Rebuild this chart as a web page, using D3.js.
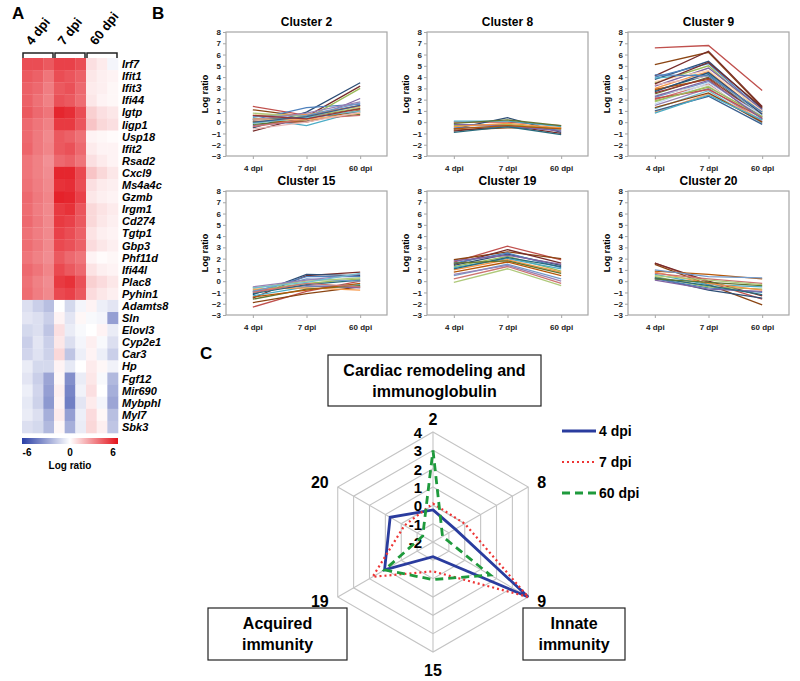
<!DOCTYPE html>
<html><head><meta charset="utf-8">
<script src="https://cdn.jsdelivr.net/npm/d3@7"></script>
<style>
body{margin:0;background:#fff;}
svg{font-family:"Liberation Sans",Arial,sans-serif;}
</style></head>
<body>
<svg id="fig" width="800" height="681"></svg>
<script>
// ---------------- DATA ----------------
const heatGroups = ["4 dpi","7 dpi","60 dpi"];
const genes = ["Irf7","Ifit1","Ifit3","Ifi44","Igtp","Iigp1","Usp18","Ifit2","Rsad2","Cxcl9","Ms4a4c","Gzmb","Irgm1","Cd274","Tgtp1","Gbp3","Phf11d","Ifi44l","Plac8","Pyhin1","Adamts8","Sln","Elovl3","Cyp2e1","Car3","Hp","Fgf12","Mir690","Mybphl","Myl7","Sbk3"];
const heatValues = [
 [4.5,4.5,4.2, 4.8,4.8,4.5, 0.8,0.5,-0.3],
 [4.2,4.0,3.5, 4.5,4.3,4.0, 0.6,0.4,0.3],
 [4.0,3.8,3.3, 4.2,4.4,3.8, 0.5,0.4,0.2],
 [4.0,3.6,3.2, 4.4,4.2,3.7, 0.6,0.3,0.2],
 [4.2,3.8,3.5, 5.5,5.3,4.5, 1.2,0.8,0.6],
 [3.8,3.5,3.2, 5.0,5.0,4.3, 1.5,1.0,0.8],
 [3.8,3.4,3.0, 4.2,4.0,3.6, 0.3,0.2,0.1],
 [3.9,3.4,3.1, 4.2,4.4,3.8, 0.5,0.3,0.3],
 [3.5,3.2,2.8, 3.8,4.0,3.5, 0.8,0.5,0.3],
 [3.5,3.2,2.9, 5.5,5.5,4.6, 1.5,1.0,0.6],
 [3.6,3.3,3.0, 5.2,5.3,4.5, 0.8,0.5,0.4],
 [3.8,3.4,3.1, 5.6,5.5,4.8, 0.6,0.4,0.3],
 [3.7,3.3,3.0, 5.0,5.2,4.3, 1.0,0.7,0.5],
 [3.8,3.4,3.0, 5.0,4.8,4.2, 1.0,0.6,0.4],
 [3.6,3.3,3.0, 4.8,4.5,4.0, 0.7,0.4,0.3],
 [3.7,3.4,3.0, 4.6,4.4,4.0, 0.9,0.6,0.4],
 [3.5,3.2,2.9, 4.2,3.8,3.5, 0.3,0.1,0.2],
 [3.8,3.5,3.1, 4.6,4.2,3.8, 0.7,0.4,0.3],
 [3.6,3.2,2.9, 5.0,5.2,4.4, 1.2,0.9,0.6],
 [3.7,3.3,3.0, 4.6,4.8,4.2, 0.9,0.6,0.4],
 [-1.0,-1.5,-2.0, 0.0,-1.2,-0.3, 0.3,-0.5,-0.8],
 [-0.8,-1.0,-1.5, 0.3,-0.8,0.2, -0.2,-0.3,-3.0],
 [-1.2,-1.0,-1.8, 0.8,-0.6,-0.2, 0.0,0.3,-0.6],
 [-1.5,-0.8,-1.5, 0.6,-1.0,-0.3, 0.4,-0.2,-1.0],
 [-1.3,-0.9,-1.4, 1.0,-1.8,-0.5, 0.3,-0.5,-1.5],
 [-0.6,-1.2,-1.2, 0.3,-0.7,0.0, 0.5,0.2,-0.4],
 [-0.8,-1.5,-2.8, 0.2,-3.5,-0.6, 0.6,-0.2,-2.2],
 [-0.5,-1.3,-3.0, 0.4,-3.8,-0.4, 0.8,0.0,-2.5],
 [-0.7,-1.4,-3.2, 0.3,-4.0,-0.8, 0.5,-0.3,-2.8],
 [-0.6,-1.0,-2.5, 0.5,-3.0,-0.5, 0.9,0.2,-2.0],
 [-1.0,-1.2,-2.2, 0.2,-2.5,-0.6, 1.0,0.4,-1.8]
];
const colorbarTicks = [-6,0,6];

const timepoints = ["4 dpi","7 dpi","60 dpi"];
const yTicks = [8,7,6,5,4,3,2,1,0,-1,-2,-3];
const clusterNames = ["Cluster 2","Cluster 8","Cluster 9","Cluster 15","Cluster 19","Cluster 20"];
const cluster2 = [[1.4,0.6,1.5],[1.1,0.5,1.2],[-0.8,0.5,3.2],[-0.5,0.9,3.5],[0.2,1.3,1.6],[0.0,0.3,3.0],[0.4,-0.3,1.0],[-0.3,0.1,2.1],[0.6,0.7,1.4],[0.3,0.4,0.9],[-0.2,0.2,0.7],[0.1,0.0,1.1],[0.5,0.6,1.7],[-0.4,0.3,0.6],[0.8,0.5,1.3],[0.2,0.8,1.8],[-0.1,0.4,1.0],[0.3,0.2,0.8],[0.0,0.5,1.5],[0.6,0.3,1.2],[-0.6,0.0,0.9]];
const cluster8 = [[0.0,0.0,-0.3],[-0.7,-0.5,-0.5],[-0.8,-0.3,-1.0],[-0.6,0.4,-0.9],[-0.5,-0.4,-0.7],[-0.3,-0.2,-0.6],[0.1,0.1,-0.4],[-0.2,-0.3,-0.8],[-0.4,-0.1,-0.5],[-0.9,-0.4,-1.1],[-0.1,0.2,-0.3],[-0.6,-0.3,-0.6]];
const cluster9 = [[6.6,6.8,2.8],[5.1,6.2,1.3],[4.1,6.3,1.4],[3.8,5.4,1.2],[4.0,5.2,1.0],[3.5,5.0,0.8],[3.9,4.3,0.5],[3.2,4.8,1.1],[3.0,4.5,0.7],[2.8,4.2,0.3],[2.5,4.0,0.9],[2.9,3.8,0.2],[2.2,3.6,0.6],[2.0,3.4,0.0],[1.8,3.2,0.4],[1.5,3.0,0.1],[1.2,2.8,-0.1],[0.9,2.5,0.3],[1.0,2.3,-0.2],[2.6,3.9,0.5],[3.3,4.1,0.8],[2.4,3.3,0.2],[1.6,3.5,0.6],[3.6,4.6,1.0],[2.1,2.9,0.4],[1.3,2.6,0.0],[3.4,5.3,1.3],[2.7,4.4,0.7],[4.2,4.1,0.9],[1.9,3.1,0.5],[0.8,2.4,0.2],[2.3,3.7,0.3]];
const cluster15 = [[-2.3,-0.9,0.0],[-1.9,-1.1,-0.5],[-1.5,0.5,0.8],[-1.2,0.6,0.5],[-1.0,0.4,0.4],[-0.8,-0.2,0.2],[-1.3,-0.5,-0.3],[-0.9,-0.4,-0.6],[-0.7,-0.6,-0.8],[-1.1,-0.3,0.1],[-1.6,-0.7,-0.4],[-1.4,-0.8,-0.2],[-0.9,0.2,0.0],[-1.0,-0.2,-0.5],[-0.6,0.0,0.3],[-0.5,0.1,0.6],[-0.6,-0.1,0.7]];
const cluster19 = [[1.7,3.1,1.9],[1.9,2.6,2.0],[1.5,2.8,1.6],[1.4,2.4,1.4],[1.6,2.5,1.2],[1.3,2.2,0.9],[1.2,2.0,1.1],[1.8,2.3,1.5],[1.0,1.9,0.8],[1.1,2.1,1.3],[1.6,1.8,0.7],[0.8,1.7,0.5],[0.5,1.5,0.2],[0.2,1.3,-0.2],[-0.1,1.1,-0.4],[0.6,1.4,0.0]];
const cluster20 = [[1.6,-0.1,-1.6],[1.5,-0.3,-2.1],[1.6,0.0,-1.3],[0.3,-0.8,-1.5],[0.2,-0.6,-1.0],[0.4,-0.5,-0.7],[0.6,-0.3,-0.5],[0.1,-0.7,-0.9],[0.8,-0.2,-0.8],[0.3,-0.4,-1.2],[0.2,-0.1,-0.4],[0.9,0.6,0.2],[1.0,0.4,0.3],[0.7,0.2,-0.2],[0.5,0.1,-0.3]];
const clusterLines = [cluster2,cluster8,cluster9,cluster15,cluster19,cluster20];
const linePalette = ["#C0504D","#8B4513","#772C2A","#2C4D75","#4F81BD","#9BBB59","#4BACC6","#8064A2","#F79646","#276A7C","#5F7530","#B65708","#729ACA","#CD7371","#AFC97A","#9983B5","#6FBDD1","#F9AB6B","#3A5F8F","#953735","#E6B9B8","#D9D9D9","#C6D9F1","#FCD5B5"];

const radarAxes = ["2","8","9","15","19","20"];
const radarTicks = [4,3,2,1,0,-1,-2];
const radarSeries = ["4 dpi","7 dpi","60 dpi"];
const radar4dpi  = [-0.25,-0.6,4.0,-1.2,1.05,0.7];
const radar7dpi  = [0.1,0.0,4.0,-0.4,1.8,-0.2];
const radar60dpi = [3.0,-1.4,1.6,0.05,1.05,-1.35];

// ---------------- DRAW ----------------
const svg = d3.select("#fig");
const bold = "bold";

// Panel letters
[["A",12,19],["B",152,19],["C",200,359]].forEach(d=>{
  svg.append("text").attr("x",d[1]).attr("y",d[2]).text(d[0])
    .attr("font-size",17).attr("font-weight",bold);
});

// ===== Panel A heatmap =====
const hx = d3.scaleBand().domain(d3.range(9)).range([22,118]);
const hy = d3.scaleBand().domain(genes).range([58,433]);
const heatColor = d3.scaleLinear().domain([-6,0,6]).range(["#2a3fa6","#ffffff","#e3121b"]).clamp(true);
const gA = svg.append("g");
genes.forEach((g,i)=>{
  heatValues[i].forEach((v,j)=>{
    gA.append("rect").attr("x",hx(j)).attr("y",hy(g)).attr("width",hx.bandwidth()+0.3).attr("height",hy.bandwidth()+0.3)
      .attr("fill",heatColor(v));
  });
  gA.append("text").attr("x",122).attr("y",hy(g)+hy.bandwidth()/2+4).text(g)
    .attr("font-size",11).attr("font-weight",bold).attr("font-style","italic");
});
heatGroups.forEach((g,k)=>{
  const x0 = hx(k*3), x1 = hx(k*3+2)+hx.bandwidth();
  gA.append("path").attr("d",`M${x0+1},58V53H${x1-1}V58`).attr("fill","none").attr("stroke","#222").attr("stroke-width",1.5);
  gA.append("text").attr("transform",`translate(${(x0+x1)/2-6},46) rotate(-52)`).text(g)
    .attr("font-size",13).attr("font-weight",bold);
});
const defs = svg.append("defs");
const grad = defs.append("linearGradient").attr("id","cb");
[-6,0,6].forEach(v=>grad.append("stop").attr("offset",((v+6)/12*100)+"%").attr("stop-color",heatColor(v)));
gA.append("rect").attr("x",22).attr("y",438).attr("width",96).attr("height",6).attr("fill","url(#cb)");
const cbx = d3.scaleLinear().domain([-6,6]).range([27,113]);
colorbarTicks.forEach(t=>gA.append("text").attr("x",cbx(t)).attr("y",456).attr("text-anchor","middle").text(t)
  .attr("font-size",10).attr("font-weight",bold));
gA.append("text").attr("x",70).attr("y",469).attr("text-anchor","middle").text("Log ratio").attr("font-size",10).attr("font-weight",bold);

// ===== Panel B small multiples =====
const lefts = [226,427,628], tops = [32,191];
const pw = 161, ph = 124;
clusterNames.forEach((name,ci)=>{
  const L = lefts[ci%3], T = tops[Math.floor(ci/3)];
  const g = svg.append("g");
  const x = d3.scalePoint().domain(timepoints).range([L,L+pw]).padding(0.5);
  const y = d3.scaleLinear().domain([-3,8]).range([T+ph,T]);
  g.append("rect").attr("x",L).attr("y",T).attr("width",pw).attr("height",ph).attr("fill","none").attr("stroke","#a6a6a6").attr("stroke-width",1.2);
  const yAx = g.append("g").attr("transform",`translate(${L},0)`).call(d3.axisLeft(y).tickValues(yTicks).tickSize(3).tickPadding(2));
  yAx.select(".domain").remove();
  yAx.selectAll("line").attr("stroke","#a6a6a6");
  yAx.selectAll("text").attr("font-size",8).attr("font-weight",bold).attr("font-family","Liberation Sans, Arial, sans-serif").attr("fill","#222");
  const xAx = g.append("g").attr("transform",`translate(0,${T+ph})`).call(d3.axisBottom(x).tickSize(3).tickPadding(6));
  xAx.select(".domain").remove();
  xAx.selectAll("line").attr("stroke","#a6a6a6");
  xAx.selectAll("text").attr("font-size",8).attr("font-weight",bold).attr("font-family","Liberation Sans, Arial, sans-serif").attr("fill","#222");
  g.append("text").attr("transform",`translate(${L-18},${T+ph/2}) rotate(-90)`).attr("text-anchor","middle").text("Log ratio")
    .attr("font-size",9).attr("font-weight",bold);
  g.append("text").attr("x",L+pw/2).attr("y",T-6).attr("text-anchor","middle").text(name)
    .attr("font-size",12).attr("font-weight",bold);
  const line = d3.line().x((d,i)=>x(timepoints[i])).y(d=>y(d));
  clusterLines[ci].forEach((vals,k)=>{
    g.append("path").attr("d",line(vals)).attr("fill","none")
      .attr("stroke",linePalette[k%linePalette.length]).attr("stroke-width",1.3);
  });
});

// ===== Panel C radar =====
const cx = 433, cy = 542, R = 110;
const rr = d3.scaleLinear().domain([-2,4]).range([0,R]);
const ang = i => i*Math.PI/3;
const pt = (i,v)=>[cx+rr(v)*Math.sin(ang(i)), cy-rr(v)*Math.cos(ang(i))];
const gC = svg.append("g");
radarTicks.filter(t=>t>-2).forEach(t=>{
  gC.append("path").attr("d",d3.line()(radarAxes.map((a,i)=>pt(i,t)))+"Z")
    .attr("fill","none").attr("stroke","#c4c4c4").attr("stroke-width",1.1);
});
radarAxes.forEach((a,i)=>{
  const p = pt(i,4);
  gC.append("line").attr("x1",cx).attr("y1",cy).attr("x2",p[0]).attr("y2",p[1]).attr("stroke","#c4c4c4").attr("stroke-width",1.1);
});
radarTicks.forEach(t=>{
  gC.append("text").attr("x",cx-11).attr("y",cy-rr(t)+6).attr("text-anchor","end").text(t)
    .attr("font-size",15).attr("font-weight",bold);
});
const radarStyles = [
  {c:"#2a3c9e",w:2.8,d:null},
  {c:"#ee3535",w:2.2,d:"2,3"},
  {c:"#1e9a3c",w:2.8,d:"8,5"}
];
[radar4dpi,radar7dpi,radar60dpi].forEach((vals,s)=>{
  const st = radarStyles[s];
  gC.append("path").attr("d",d3.line()(vals.map((v,i)=>pt(i,v)))+"Z")
    .attr("fill","none").attr("stroke",st.c).attr("stroke-width",st.w).attr("stroke-dasharray",st.d);
});
radarSeries.forEach((nm,s)=>{
  const st = radarStyles[s], ly = 431 + s*31;
  gC.append("line").attr("x1",562).attr("x2",596).attr("y1",ly).attr("y2",ly)
    .attr("stroke",st.c).attr("stroke-width",st.w).attr("stroke-dasharray",st.d);
  gC.append("text").attr("x",599).attr("y",ly+5).text(nm).attr("font-size",14).attr("font-weight",bold);
});
const boxes = [
  {x:328,y:355,w:213,h:51,lines:["Cardiac remodeling and","immunoglobulin"]},
  {x:208,y:608,w:139,h:52,lines:["Acquired","immunity"]},
  {x:523,y:608,w:102,h:52,lines:["Innate","immunity"]}
];
boxes.forEach(b=>{
  gC.append("rect").attr("x",b.x).attr("y",b.y).attr("width",b.w).attr("height",b.h).attr("fill","#fff").attr("stroke","#222").attr("stroke-width",1.2);
  b.lines.forEach((t,k)=>gC.append("text").attr("x",b.x+b.w/2).attr("y",b.y+21+k*21).attr("text-anchor","middle").text(t)
    .attr("font-size",16).attr("font-weight",bold));
});
// axis labels (drawn last so boxes do not hide them)
const labPos = [[0,-7,"middle"],[9,1,"start"],[9,10,"start"],[0,24,"middle"],[-9,10,"end"],[-9,1,"end"]];
radarAxes.forEach((a,i)=>{
  const p = pt(i,4);
  gC.append("text").attr("x",p[0]+labPos[i][0]).attr("y",p[1]+labPos[i][1]).attr("text-anchor",labPos[i][2])
    .text(a).attr("font-size",16).attr("font-weight",bold);
});
</script>
</body></html>
